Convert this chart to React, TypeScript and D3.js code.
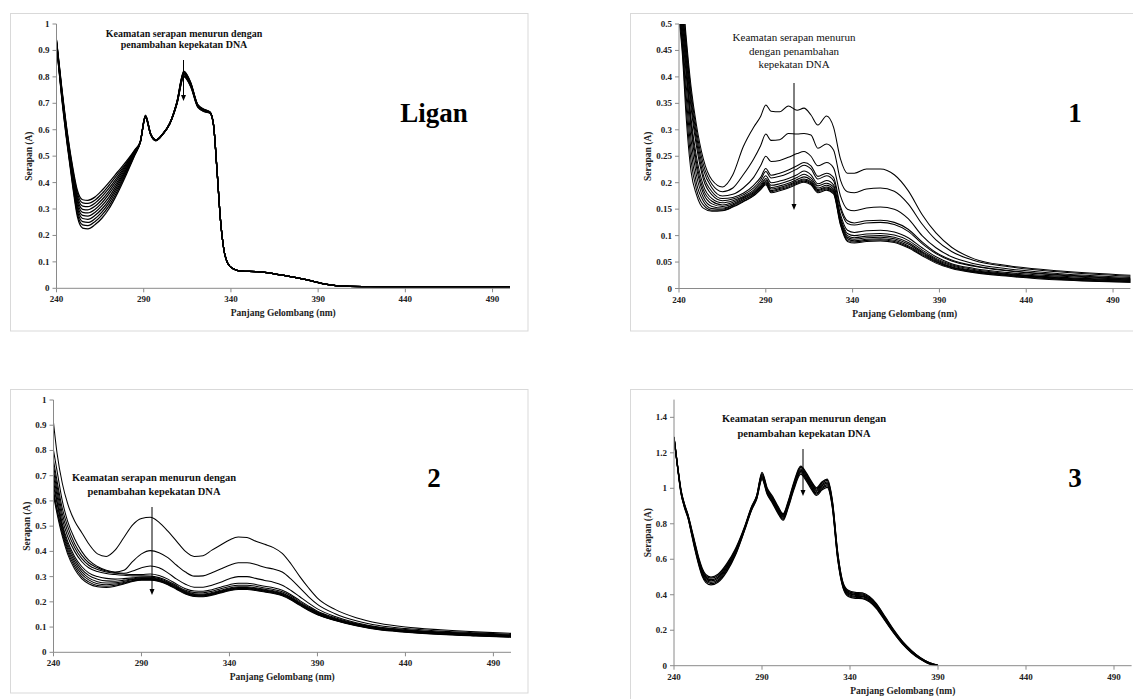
import React from 'react';
import * as d3 from 'd3';

// ---------- DATA ----------
const xTicks = [240, 290, 340, 390, 440, 490];
const liganYTicks = [0, 0.1, 0.2, 0.3, 0.4, 0.5, 0.6, 0.7, 0.8, 0.9, 1];
const p1YTicks = [0, 0.05, 0.1, 0.15, 0.2, 0.25, 0.3, 0.35, 0.4, 0.45, 0.5];
const p2YTicks = [0, 0.1, 0.2, 0.3, 0.4, 0.5, 0.6, 0.7, 0.8, 0.9, 1];
const p3YTicks = [0, 0.2, 0.4, 0.6, 0.8, 1, 1.2, 1.4];

const annotationBold = ['Keamatan serapan menurun dengan', 'penambahan kepekatan DNA'];
const annotationP1 = ['Keamatan serapan menurun', 'dengan penambahan', 'kepekatan DNA'];
const xTitle = 'Panjang Gelombang (nm)';
const yTitle = 'Serapan (A)';

// Ligan
const liganWavelengths = [240, 243, 246, 249, 252, 255, 258, 262, 266, 270, 275, 280, 285, 288,
  291, 294, 297, 301, 305, 309, 313, 317, 321, 325, 328, 330, 332, 334, 336, 338, 341, 346, 355, 365, 375, 385, 395, 405, 420, 460, 500];
const liganSpectra = [
  [0.94, 0.76, 0.60, 0.47, 0.37, 0.335, 0.333, 0.345, 0.37, 0.40, 0.44, 0.48, 0.525, 0.555,
    0.655, 0.585, 0.562, 0.585, 0.625, 0.705, 0.822, 0.778, 0.695, 0.676, 0.667, 0.62, 0.45, 0.26, 0.145, 0.097, 0.075, 0.065, 0.063, 0.055, 0.043, 0.03, 0.015, 0.008, 0.006, 0.005, 0.005],
  [0.938, 0.756, 0.594, 0.462, 0.359, 0.323, 0.321, 0.333, 0.358, 0.389, 0.431, 0.474, 0.523, 0.554,
    0.654, 0.585, 0.562, 0.585, 0.625, 0.704, 0.82, 0.776, 0.694, 0.675, 0.667, 0.62, 0.45, 0.26, 0.145, 0.097, 0.075, 0.065, 0.063, 0.055, 0.043, 0.03, 0.015, 0.008, 0.006, 0.005, 0.005],
  [0.936, 0.751, 0.589, 0.454, 0.348, 0.311, 0.309, 0.322, 0.347, 0.378, 0.422, 0.469, 0.521, 0.554,
    0.653, 0.584, 0.562, 0.585, 0.625, 0.703, 0.817, 0.774, 0.693, 0.674, 0.666, 0.62, 0.45, 0.26, 0.145, 0.097, 0.075, 0.065, 0.063, 0.055, 0.043, 0.03, 0.015, 0.008, 0.006, 0.005, 0.005],
  [0.933, 0.747, 0.583, 0.447, 0.337, 0.299, 0.297, 0.31, 0.335, 0.367, 0.413, 0.463, 0.518, 0.553,
    0.652, 0.584, 0.561, 0.585, 0.625, 0.702, 0.815, 0.773, 0.692, 0.673, 0.666, 0.62, 0.45, 0.26, 0.145, 0.097, 0.075, 0.065, 0.063, 0.055, 0.043, 0.03, 0.015, 0.008, 0.006, 0.005, 0.005],
  [0.931, 0.742, 0.578, 0.439, 0.326, 0.287, 0.285, 0.298, 0.323, 0.356, 0.404, 0.458, 0.516, 0.553,
    0.651, 0.583, 0.561, 0.584, 0.624, 0.701, 0.813, 0.771, 0.691, 0.672, 0.665, 0.619, 0.45, 0.26, 0.145, 0.097, 0.075, 0.065, 0.063, 0.055, 0.043, 0.03, 0.015, 0.008, 0.006, 0.005, 0.005],
  [0.929, 0.738, 0.572, 0.431, 0.314, 0.276, 0.273, 0.287, 0.312, 0.344, 0.396, 0.452, 0.514, 0.552,
    0.65, 0.583, 0.56, 0.584, 0.624, 0.70, 0.81, 0.769, 0.69, 0.671, 0.665, 0.619, 0.449, 0.26, 0.145, 0.097, 0.075, 0.065, 0.063, 0.055, 0.043, 0.03, 0.015, 0.008, 0.006, 0.005, 0.005],
  [0.927, 0.733, 0.567, 0.423, 0.303, 0.264, 0.261, 0.275, 0.30, 0.333, 0.387, 0.447, 0.512, 0.552,
    0.649, 0.582, 0.56, 0.584, 0.624, 0.699, 0.808, 0.768, 0.689, 0.67, 0.664, 0.619, 0.449, 0.26, 0.145, 0.097, 0.075, 0.065, 0.063, 0.055, 0.043, 0.03, 0.015, 0.008, 0.006, 0.005, 0.005],
  [0.924, 0.729, 0.561, 0.416, 0.292, 0.252, 0.249, 0.263, 0.288, 0.322, 0.378, 0.441, 0.509, 0.551,
    0.648, 0.582, 0.559, 0.583, 0.623, 0.698, 0.805, 0.766, 0.688, 0.669, 0.664, 0.618, 0.449, 0.26, 0.145, 0.097, 0.075, 0.065, 0.063, 0.055, 0.043, 0.03, 0.015, 0.008, 0.006, 0.005, 0.005],
  [0.922, 0.724, 0.556, 0.408, 0.281, 0.24, 0.237, 0.252, 0.277, 0.311, 0.369, 0.436, 0.507, 0.551,
    0.647, 0.581, 0.559, 0.583, 0.623, 0.697, 0.803, 0.764, 0.687, 0.668, 0.663, 0.618, 0.448, 0.26, 0.145, 0.097, 0.075, 0.065, 0.063, 0.055, 0.043, 0.03, 0.015, 0.008, 0.006, 0.005, 0.005],
  [0.92, 0.72, 0.55, 0.40, 0.27, 0.228, 0.225, 0.24, 0.265, 0.30, 0.36, 0.43, 0.505, 0.55,
    0.646, 0.581, 0.558, 0.583, 0.623, 0.696, 0.80, 0.762, 0.685, 0.668, 0.663, 0.618, 0.448, 0.26, 0.145, 0.097, 0.075, 0.065, 0.063, 0.055, 0.043, 0.03, 0.015, 0.008, 0.006, 0.005, 0.005],
];

// Complex 1
const p1Wavelengths = [240, 242, 244, 247, 250, 254, 259, 265, 271, 277, 283, 287, 290, 293, 298, 303, 308, 312,
  316, 320, 325, 329, 333, 337, 341, 348, 356, 364, 372, 380, 388, 397, 410, 430, 460, 500];
const p1Spectra = [
  [0.65, 0.56, 0.48, 0.38, 0.31, 0.245, 0.205, 0.192, 0.215, 0.268, 0.305, 0.325, 0.347, 0.335, 0.334, 0.345, 0.337, 0.341,
    0.328, 0.309, 0.326, 0.305, 0.245, 0.218, 0.218, 0.226, 0.226, 0.215, 0.185, 0.14, 0.105, 0.078, 0.056, 0.043, 0.033, 0.025],
  [0.62, 0.55, 0.47, 0.37, 0.30, 0.235, 0.197, 0.183, 0.19, 0.215, 0.245, 0.27, 0.292, 0.28, 0.281, 0.293, 0.292, 0.293,
    0.29, 0.265, 0.273, 0.262, 0.205, 0.183, 0.181, 0.188, 0.19, 0.184, 0.16, 0.122, 0.092, 0.07, 0.053, 0.041, 0.031, 0.023],
  [0.6, 0.53, 0.46, 0.36, 0.29, 0.225, 0.19, 0.175, 0.178, 0.19, 0.21, 0.232, 0.25, 0.24, 0.242, 0.248, 0.255, 0.259,
    0.25, 0.232, 0.238, 0.228, 0.175, 0.15, 0.147, 0.152, 0.154, 0.15, 0.132, 0.1, 0.077, 0.06, 0.047, 0.037, 0.028, 0.021],
  [0.59, 0.52, 0.45, 0.35, 0.28, 0.215, 0.183, 0.17, 0.172, 0.18, 0.195, 0.21, 0.227, 0.214, 0.218, 0.224, 0.232, 0.238,
    0.232, 0.212, 0.218, 0.21, 0.155, 0.128, 0.124, 0.128, 0.129, 0.125, 0.112, 0.088, 0.068, 0.054, 0.043, 0.034, 0.026, 0.019],
  [0.58, 0.51, 0.44, 0.34, 0.27, 0.207, 0.177, 0.166, 0.169, 0.177, 0.19, 0.205, 0.221, 0.209, 0.212, 0.218, 0.226, 0.233,
    0.226, 0.207, 0.213, 0.204, 0.15, 0.123, 0.12, 0.124, 0.125, 0.121, 0.108, 0.085, 0.066, 0.052, 0.042, 0.033, 0.025, 0.018],
  [0.57, 0.5, 0.43, 0.32, 0.25, 0.195, 0.17, 0.162, 0.166, 0.174, 0.186, 0.2, 0.213, 0.2, 0.203, 0.208, 0.215, 0.222,
    0.215, 0.198, 0.204, 0.196, 0.14, 0.11, 0.106, 0.109, 0.11, 0.107, 0.096, 0.077, 0.06, 0.047, 0.038, 0.03, 0.023, 0.017],
  [0.56, 0.49, 0.42, 0.31, 0.24, 0.187, 0.165, 0.158, 0.163, 0.172, 0.183, 0.196, 0.208, 0.195, 0.198, 0.203, 0.21, 0.216,
    0.209, 0.194, 0.199, 0.192, 0.135, 0.104, 0.1, 0.103, 0.104, 0.101, 0.091, 0.073, 0.057, 0.045, 0.036, 0.028, 0.021, 0.016],
  [0.55, 0.48, 0.41, 0.3, 0.23, 0.18, 0.16, 0.155, 0.16, 0.17, 0.181, 0.193, 0.205, 0.191, 0.194, 0.199, 0.206, 0.211,
    0.205, 0.19, 0.195, 0.188, 0.131, 0.1, 0.096, 0.099, 0.1, 0.097, 0.087, 0.07, 0.055, 0.043, 0.034, 0.027, 0.02, 0.015],
  [0.54, 0.47, 0.39, 0.28, 0.215, 0.172, 0.155, 0.152, 0.158, 0.168, 0.179, 0.191, 0.202, 0.188, 0.191, 0.196, 0.203, 0.207,
    0.202, 0.187, 0.192, 0.185, 0.128, 0.097, 0.093, 0.096, 0.097, 0.094, 0.084, 0.068, 0.053, 0.041, 0.033, 0.026, 0.019, 0.014],
  [0.53, 0.46, 0.37, 0.26, 0.2, 0.165, 0.151, 0.15, 0.157, 0.167, 0.178, 0.19, 0.2, 0.185, 0.189, 0.194, 0.201, 0.205,
    0.2, 0.185, 0.19, 0.183, 0.125, 0.094, 0.09, 0.093, 0.094, 0.091, 0.081, 0.066, 0.051, 0.04, 0.032, 0.025, 0.018, 0.013],
  [0.52, 0.45, 0.35, 0.24, 0.188, 0.158, 0.148, 0.148, 0.155, 0.165, 0.176, 0.188, 0.198, 0.183, 0.187, 0.192, 0.199, 0.203,
    0.198, 0.183, 0.188, 0.181, 0.122, 0.091, 0.088, 0.091, 0.092, 0.089, 0.079, 0.064, 0.05, 0.039, 0.031, 0.024, 0.017, 0.012],
  [0.51, 0.44, 0.33, 0.22, 0.178, 0.152, 0.146, 0.147, 0.154, 0.164, 0.175, 0.187, 0.196, 0.181, 0.185, 0.19, 0.197, 0.201,
    0.196, 0.181, 0.186, 0.179, 0.12, 0.089, 0.086, 0.089, 0.09, 0.087, 0.077, 0.062, 0.048, 0.038, 0.03, 0.023, 0.016, 0.012],
];

// Complex 2
const p2Wavelengths = [240, 242, 245, 248, 252, 256, 260, 265, 270, 275, 280, 285, 290, 295, 300, 305, 310, 315, 320, 325,
  330, 335, 340, 345, 350, 355, 360, 365, 370, 375, 380, 385, 390, 400, 412, 425, 440, 460, 480, 500];
const p2Spectra = [
  [0.91, 0.79, 0.67, 0.59, 0.52, 0.475, 0.43, 0.39, 0.38, 0.405, 0.455, 0.505, 0.53, 0.535, 0.515, 0.48, 0.44, 0.4, 0.38, 0.383,
    0.405, 0.425, 0.445, 0.457, 0.455, 0.44, 0.428, 0.415, 0.392, 0.35, 0.3, 0.255, 0.215, 0.17, 0.137, 0.115, 0.1, 0.089, 0.081, 0.075],
  [0.8, 0.72, 0.6, 0.52, 0.45, 0.4, 0.365, 0.34, 0.325, 0.318, 0.325, 0.36, 0.39, 0.403, 0.395, 0.375, 0.345, 0.318, 0.302, 0.303,
    0.315, 0.33, 0.345, 0.355, 0.355, 0.348, 0.337, 0.33, 0.318, 0.29, 0.255, 0.22, 0.19, 0.153, 0.125, 0.106, 0.094, 0.084, 0.077, 0.071],
  [0.76, 0.68, 0.57, 0.5, 0.43, 0.385, 0.355, 0.335, 0.322, 0.316, 0.313, 0.322, 0.335, 0.342, 0.335, 0.315, 0.29, 0.27, 0.258, 0.258,
    0.266, 0.278, 0.292, 0.3, 0.3, 0.293, 0.285, 0.278, 0.266, 0.245, 0.22, 0.195, 0.172, 0.142, 0.117, 0.1, 0.09, 0.08, 0.074, 0.068],
  [0.74, 0.66, 0.55, 0.48, 0.415, 0.372, 0.345, 0.328, 0.318, 0.313, 0.31, 0.308, 0.308, 0.31, 0.304, 0.29, 0.27, 0.252, 0.243, 0.242,
    0.248, 0.258, 0.268, 0.274, 0.274, 0.269, 0.262, 0.256, 0.246, 0.228, 0.205, 0.183, 0.163, 0.137, 0.114, 0.098, 0.088, 0.079, 0.072, 0.067],
  [0.72, 0.64, 0.53, 0.46, 0.4, 0.36, 0.335, 0.32, 0.312, 0.308, 0.305, 0.303, 0.303, 0.302, 0.296, 0.283, 0.264, 0.246, 0.237, 0.236,
    0.242, 0.252, 0.261, 0.266, 0.266, 0.262, 0.255, 0.249, 0.24, 0.223, 0.2, 0.179, 0.16, 0.134, 0.112, 0.096, 0.086, 0.077, 0.071, 0.066],
  [0.7, 0.62, 0.51, 0.44, 0.38, 0.34, 0.315, 0.3, 0.293, 0.29, 0.292, 0.295, 0.298, 0.298, 0.292, 0.279, 0.26, 0.242, 0.232, 0.231,
    0.237, 0.246, 0.255, 0.26, 0.26, 0.256, 0.25, 0.244, 0.235, 0.218, 0.196, 0.176, 0.157, 0.132, 0.11, 0.094, 0.085, 0.076, 0.07, 0.065],
  [0.68, 0.6, 0.5, 0.43, 0.37, 0.33, 0.305, 0.29, 0.283, 0.282, 0.286, 0.291, 0.295, 0.295, 0.289, 0.276, 0.257, 0.239, 0.229, 0.228,
    0.234, 0.243, 0.252, 0.257, 0.257, 0.253, 0.247, 0.241, 0.232, 0.215, 0.194, 0.174, 0.155, 0.13, 0.109, 0.093, 0.084, 0.075, 0.069, 0.064],
  [0.66, 0.59, 0.49, 0.42, 0.36, 0.32, 0.295, 0.28, 0.275, 0.276, 0.281, 0.288, 0.292, 0.292, 0.287, 0.274, 0.255, 0.237, 0.227, 0.226,
    0.232, 0.241, 0.25, 0.255, 0.255, 0.251, 0.245, 0.239, 0.23, 0.213, 0.192, 0.172, 0.154, 0.129, 0.108, 0.092, 0.083, 0.074, 0.068, 0.063],
  [0.64, 0.57, 0.48, 0.41, 0.35, 0.31, 0.287, 0.272, 0.268, 0.271, 0.277, 0.285, 0.29, 0.29, 0.285, 0.272, 0.253, 0.235, 0.225, 0.224,
    0.23, 0.239, 0.248, 0.253, 0.253, 0.249, 0.243, 0.237, 0.228, 0.211, 0.19, 0.17, 0.152, 0.128, 0.107, 0.091, 0.082, 0.073, 0.067, 0.062],
  [0.63, 0.56, 0.47, 0.4, 0.34, 0.3, 0.279, 0.265, 0.262, 0.266, 0.274, 0.283, 0.288, 0.288, 0.283, 0.27, 0.251, 0.233, 0.223, 0.222,
    0.228, 0.237, 0.246, 0.251, 0.251, 0.247, 0.241, 0.235, 0.226, 0.209, 0.188, 0.168, 0.15, 0.127, 0.106, 0.09, 0.081, 0.072, 0.066, 0.061],
  [0.62, 0.55, 0.46, 0.39, 0.33, 0.292, 0.272, 0.26, 0.257, 0.262, 0.271, 0.281, 0.286, 0.286, 0.281, 0.268, 0.249, 0.231, 0.221, 0.22,
    0.226, 0.235, 0.244, 0.249, 0.249, 0.245, 0.239, 0.233, 0.224, 0.207, 0.186, 0.166, 0.149, 0.126, 0.105, 0.089, 0.08, 0.071, 0.065, 0.06],
];

// Complex 3
const p3Wavelengths = [240, 242, 244, 246, 248, 250, 252, 254, 256, 258, 261, 265, 270, 275, 280, 284, 287, 290, 293, 296,
  299, 302, 305, 308, 312, 315, 318, 321, 324, 327, 330, 333, 336, 339, 343, 347, 351, 355, 360, 365, 370, 375, 380, 385, 390];
const p3Spectra = [
  [1.29, 1.13, 0.99, 0.91, 0.85, 0.77, 0.69, 0.61, 0.55, 0.515, 0.5, 0.515, 0.575, 0.66, 0.78, 0.895, 0.96, 1.09, 1.0, 0.955,
    0.9, 0.857, 0.93, 1.03, 1.125, 1.09, 1.04, 1.003, 1.035, 1.052, 0.93, 0.64, 0.47, 0.425, 0.413, 0.41, 0.39, 0.35, 0.275, 0.2,
    0.135, 0.085, 0.045, 0.018, 0.002],
  [1.288, 1.128, 0.987, 0.907, 0.847, 0.765, 0.683, 0.603, 0.543, 0.508, 0.493, 0.508, 0.568, 0.654, 0.777, 0.892, 0.957, 1.083, 0.994, 0.948,
    0.893, 0.851, 0.924, 1.023, 1.118, 1.083, 1.033, 0.996, 1.028, 1.044, 0.923, 0.633, 0.465, 0.419, 0.408, 0.405, 0.385, 0.345, 0.271, 0.197,
    0.133, 0.083, 0.044, 0.017, 0.002],
  [1.287, 1.127, 0.983, 0.903, 0.843, 0.76, 0.677, 0.597, 0.535, 0.5, 0.485, 0.5, 0.56, 0.648, 0.773, 0.888, 0.953, 1.077, 0.988, 0.942,
    0.887, 0.845, 0.918, 1.017, 1.11, 1.075, 1.025, 0.989, 1.02, 1.036, 0.917, 0.627, 0.46, 0.413, 0.402, 0.399, 0.38, 0.341, 0.267, 0.194,
    0.13, 0.081, 0.042, 0.015, 0.001],
  [1.285, 1.125, 0.98, 0.9, 0.84, 0.755, 0.67, 0.59, 0.528, 0.493, 0.478, 0.493, 0.553, 0.643, 0.77, 0.885, 0.95, 1.07, 0.983, 0.935,
    0.88, 0.839, 0.913, 1.01, 1.103, 1.068, 1.018, 0.982, 1.013, 1.029, 0.91, 0.62, 0.455, 0.408, 0.397, 0.394, 0.375, 0.336, 0.264, 0.191,
    0.128, 0.079, 0.041, 0.014, 0.001],
  [1.283, 1.123, 0.977, 0.897, 0.837, 0.75, 0.663, 0.583, 0.52, 0.485, 0.47, 0.485, 0.545, 0.637, 0.767, 0.882, 0.947, 1.063, 0.977, 0.928,
    0.873, 0.832, 0.907, 1.003, 1.095, 1.06, 1.01, 0.974, 1.005, 1.021, 0.903, 0.613, 0.45, 0.402, 0.391, 0.389, 0.37, 0.331, 0.26, 0.188,
    0.125, 0.076, 0.039, 0.013, 0.001],
  [1.282, 1.122, 0.973, 0.893, 0.833, 0.745, 0.657, 0.577, 0.513, 0.478, 0.463, 0.478, 0.538, 0.631, 0.763, 0.878, 0.943, 1.057, 0.971, 0.922,
    0.867, 0.826, 0.901, 0.997, 1.088, 1.053, 1.003, 0.967, 0.998, 1.013, 0.897, 0.607, 0.445, 0.396, 0.386, 0.383, 0.365, 0.327, 0.256, 0.185,
    0.123, 0.074, 0.038, 0.011, 0.0],
  [1.28, 1.12, 0.97, 0.89, 0.83, 0.74, 0.65, 0.57, 0.505, 0.47, 0.455, 0.47, 0.53, 0.625, 0.76, 0.875, 0.94, 1.05, 0.965, 0.915,
    0.86, 0.82, 0.895, 0.99, 1.08, 1.045, 0.995, 0.96, 0.99, 1.005, 0.89, 0.6, 0.44, 0.39, 0.38, 0.378, 0.36, 0.322, 0.252, 0.182,
    0.12, 0.072, 0.036, 0.01, 0.0],
];

// ---------- LAYOUT ----------
const FONT = "'Liberation Serif', 'Times New Roman', serif";

type PanelCfg = {
  id: string;
  frame: [number, number, number, number];
  left: number; right: number; top: number; bottom: number;
  yMax: number; yTicks: number[];
  wavelengths: number[]; spectra: number[][]; strokeW: number;
  label: string; labelX: number; labelY: number;
  note: string[]; noteX: number; noteY: number; noteStep: number; noteSize: number; noteBold: boolean;
  arrowX: number; arrowY1: number; arrowY2: number;
  yTitleX: number;
};

const panels: PanelCfg[] = [
  {
    id: 'ligan', frame: [10.5, 13.5, 517.5, 317.5],
    left: 56.5, right: 510, top: 24, bottom: 288.3, yMax: 1, yTicks: liganYTicks,
    wavelengths: liganWavelengths, spectra: liganSpectra, strokeW: 1.25,
    label: 'Ligan', labelX: 434, labelY: 122,
    note: annotationBold, noteX: 184, noteY: 36.5, noteStep: 11, noteSize: 10, noteBold: true,
    arrowX: 183.5, arrowY1: 60, arrowY2: 101, yTitleX: 28.5,
  },
  {
    id: 'p1', frame: [630.5, 13.5, 520, 317.5],
    left: 679, right: 1130.4, top: 24, bottom: 288.5, yMax: 0.5, yTicks: p1YTicks,
    wavelengths: p1Wavelengths, spectra: p1Spectra, strokeW: 1.05,
    label: '1', labelX: 1075, labelY: 122,
    note: annotationP1, noteX: 794, noteY: 41, noteStep: 13.5, noteSize: 11, noteBold: false,
    arrowX: 794, arrowY1: 83, arrowY2: 210, yTitleX: 648,
  },
  {
    id: 'p2', frame: [10.5, 389.5, 517.5, 303.5],
    left: 53.5, right: 511, top: 400, bottom: 652.3, yMax: 1, yTicks: p2YTicks,
    wavelengths: p2Wavelengths, spectra: p2Spectra, strokeW: 1.05,
    label: '2', labelX: 434, labelY: 487,
    note: annotationBold, noteX: 154, noteY: 480.5, noteStep: 14.5, noteSize: 10.5, noteBold: true,
    arrowX: 152, arrowY1: 507, arrowY2: 595, yTitleX: 27,
  },
  {
    id: 'p3', frame: [630.5, 389.5, 520, 320],
    left: 674, right: 1131.6, top: 399.6, bottom: 665.7, yMax: 1.5, yTicks: p3YTicks,
    wavelengths: p3Wavelengths, spectra: p3Spectra, strokeW: 1.25,
    label: '3', labelX: 1075, labelY: 487,
    note: annotationBold, noteX: 804, noteY: 422, noteStep: 15, noteSize: 10.5, noteBold: true,
    arrowX: 803, arrowY1: 449, arrowY2: 496, yTitleX: 648,
  },
];

const fmt = (v: number) => String(+v.toFixed(2));

function Panel({ cfg }: { cfg: PanelCfg }) {
  const x = d3.scaleLinear().domain([240, 500]).range([cfg.left, cfg.right]);
  const y = d3.scaleLinear().domain([0, cfg.yMax]).range([cfg.bottom, cfg.top]);
  const line = d3
    .line<[number, number]>()
    .x((d) => x(d[0]))
    .y((d) => y(d[1]))
    .curve(d3.curveMonotoneX);
  const axisColor = '#8a8a8a';
  const [fx, fy, fw, fh] = cfg.frame;
  return (
    <g>
      <rect x={fx} y={fy} width={fw} height={fh} fill="#fff" stroke="#d9d9d9" strokeWidth={1} />
      <clipPath id={`clip-${cfg.id}`}>
        <rect x={cfg.left} y={cfg.top} width={cfg.right - cfg.left + 2} height={cfg.bottom - cfg.top} />
      </clipPath>
      <g clipPath={`url(#clip-${cfg.id})`}>
        {cfg.spectra.map((s, i) => {
          const n = Math.min(s.length, cfg.wavelengths.length);
          const pts: [number, number][] = [];
          for (let j = 0; j < n; j++) pts.push([cfg.wavelengths[j], s[j]]);
          return <path key={i} d={line(pts) || ''} fill="none" stroke="#000" strokeWidth={cfg.strokeW} />;
        })}
      </g>
      {/* y axis */}
      <line x1={cfg.left} x2={cfg.left} y1={cfg.bottom} y2={cfg.top} stroke={axisColor} strokeWidth={1} />
      {cfg.yTicks.map((t) => (
        <g key={t}>
          <line x1={cfg.left - 4} x2={cfg.left} y1={y(t)} y2={y(t)} stroke={axisColor} />
          <text x={cfg.left - 7} y={y(t) + 3} textAnchor="end" fontFamily={FONT} fontWeight="bold" fontSize={9} fill="#222">
            {fmt(t)}
          </text>
        </g>
      ))}
      {/* x axis */}
      <line x1={cfg.left} x2={cfg.right} y1={cfg.bottom} y2={cfg.bottom} stroke={axisColor} strokeWidth={1} />
      {xTicks.map((t) => (
        <g key={t}>
          <line x1={x(t)} x2={x(t)} y1={cfg.bottom} y2={cfg.bottom + 4} stroke={axisColor} />
          <text x={x(t)} y={cfg.bottom + 14} textAnchor="middle" fontFamily={FONT} fontWeight="bold" fontSize={9} fill="#222">
            {t}
          </text>
        </g>
      ))}
      <text x={(cfg.left + cfg.right) / 2} y={cfg.bottom + 28} textAnchor="middle" fontFamily={FONT} fontWeight="bold" fontSize={9.5} fill="#222">
        {xTitle}
      </text>
      <text
        transform={`translate(${cfg.yTitleX},${(cfg.top + cfg.bottom) / 2}) rotate(-90)`}
        textAnchor="middle"
        dominantBaseline="central"
        fontFamily={FONT}
        fontWeight="bold"
        fontSize={9.5}
        fill="#222"
      >
        {yTitle}
      </text>
      {/* annotation */}
      {cfg.note.map((ln, i) => (
        <text key={i} x={cfg.noteX} y={cfg.noteY + i * cfg.noteStep} textAnchor="middle" fontFamily={FONT}
          fontWeight={cfg.noteBold ? 'bold' : 'normal'} fontSize={cfg.noteSize} fill="#111">
          {ln}
        </text>
      ))}
      <line x1={cfg.arrowX} x2={cfg.arrowX} y1={cfg.arrowY1} y2={cfg.arrowY2 - 5} stroke="#000" strokeWidth={1} />
      <path d={`M${cfg.arrowX - 2.5},${cfg.arrowY2 - 6} L${cfg.arrowX + 2.5},${cfg.arrowY2 - 6} L${cfg.arrowX},${cfg.arrowY2} Z`} fill="#000" />
      <text x={cfg.labelX} y={cfg.labelY} textAnchor="middle" fontFamily={FONT} fontWeight="bold" fontSize={27} fill="#000">
        {cfg.label}
      </text>
    </g>
  );
}

export default function App() {
  return (
    <svg width={1133} height={699} style={{ position: 'absolute', left: 0, top: 0, background: '#fff' }}>
      <rect x={0} y={0} width={1133} height={699} fill="#fff" />
      {panels.map((p) => (
        <Panel key={p.id} cfg={p} />
      ))}
    </svg>
  );
}
